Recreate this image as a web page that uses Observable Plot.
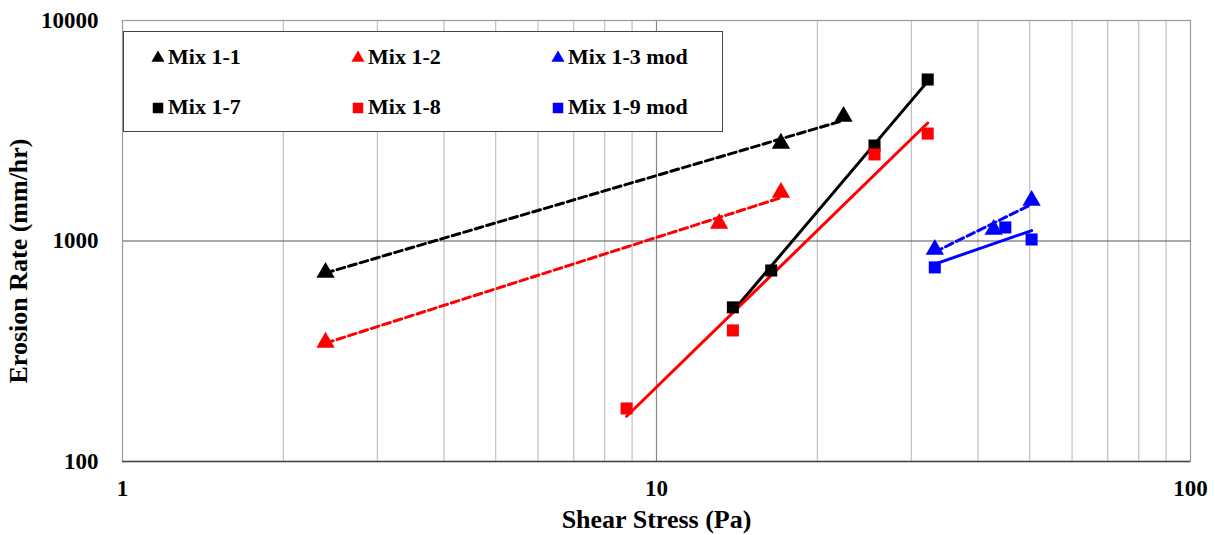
<!DOCTYPE html>
<html><head><meta charset="utf-8">
<script src="https://cdn.jsdelivr.net/npm/d3@7"></script>
<script src="https://cdn.jsdelivr.net/npm/@observablehq/plot@0.6"></script>
<style>
body{margin:0;background:#fff;}
#wrap{position:relative;width:1215px;height:535px;font-family:"Liberation Serif","Times New Roman",serif;font-weight:bold;color:#000;}
#legend{position:absolute;left:123px;top:31px;width:598px;height:99px;border:1.5px solid #444;background:#fff;}
.item{position:absolute;display:flex;align-items:center;font-size:22px;white-space:nowrap;}
.item svg{margin-right:3px;}
#chart svg g[aria-label$="tick label"], #chart svg g[aria-label$="tick label"] text{font-size:23px !important;}
</style></head>
<body><div id="wrap"><div id="chart"></div><div id="legend"></div></div>
<script>
// ---- data ----
const seriesNames = ["Mix 1-1","Mix 1-2","Mix 1-3 mod","Mix 1-7","Mix 1-8","Mix 1-9 mod"];
const seriesColors = ["#000000","#ff0000","#0000ff","#000000","#ff0000","#0000ff"];
const seriesSymbols = ["triangle","triangle","triangle","square","square","square"];
const seriesDashed = [true,true,true,false,false,false];

const shearMix11 = [2.40, 17.1, 22.4];
const rateMix11  = [720, 2770, 3670];
const shearMix12 = [2.40, 13.1, 17.1];
const rateMix12  = [347, 1200, 1660];
const shearMix13 = [33.2, 42.8, 50.4];
const rateMix13  = [915, 1128, 1527];
const shearMix17 = [13.9, 16.4, 25.6, 32.2];
const rateMix17  = [500, 735, 2710, 5400];
const shearMix18 = [8.79, 13.9, 25.6, 32.2];
const rateMix18  = [174, 393, 2470, 3070];
const shearMix19 = [33.2, 45.0, 50.4];
const rateMix19  = [759, 1152, 1016];

const xTicks = [1, 10, 100];
const yTicks = [100, 1000, 10000];
const xMinor = [2,3,4,5,6,7,8,9,20,30,40,50,60,70,80,90];

const shears = [shearMix11, shearMix12, shearMix13, shearMix17, shearMix18, shearMix19];
const rates  = [rateMix11, rateMix12, rateMix13, rateMix17, rateMix18, rateMix19];

// table of points
const points = [];
seriesNames.forEach((s, i) => shears[i].forEach((x, j) => points.push({series: s, x, y: rates[i][j], i})));

// power-law trendlines (least squares in log-log), spanning each series' x range
const trends = [];
seriesNames.forEach((s, i) => {
  const lx = shears[i].map(Math.log10), ly = rates[i].map(Math.log10);
  const mx = d3.mean(lx), my = d3.mean(ly);
  const b = d3.sum(lx, (v, k) => (v - mx) * (ly[k] - my)) / d3.sum(lx, v => (v - mx) ** 2);
  const a = my - b * mx;
  const [x0, x1] = d3.extent(shears[i]);
  [x0, x1].forEach(x => trends.push({series: s, i, x, y: 10 ** (a + b * Math.log10(x))}));
});

const font = '"Liberation Serif","Times New Roman",serif';
const marks = [
  Plot.ruleX(xMinor, {stroke: "#b4b4b4", strokeWidth: 1}),
  Plot.ruleX([10], {stroke: "#888", strokeWidth: 1.2}),
  Plot.ruleY([1000], {stroke: "#555", strokeWidth: 1.2}),
  Plot.frame({stroke: "#999", strokeWidth: 1.2}),
  Plot.ruleY([100], {stroke: "#444", strokeWidth: 1.5}),
];
seriesNames.forEach((s, i) => {
  marks.push(Plot.line(trends.filter(d => d.i === i), {x: "x", y: "y", stroke: seriesColors[i], strokeWidth: 3,
    strokeDasharray: seriesDashed[i] ? "8,4" : null}));
});
seriesNames.forEach((s, i) => {
  marks.push(Plot.dot(points.filter(d => d.i === i), {x: "x", y: "y", symbol: seriesSymbols[i], fill: seriesColors[i],
    stroke: "none", r: 6.8}));
});
marks.push(
  Plot.axisX({ticks: xTicks, tickSize: 0, tickPadding: 18, tickFormat: d => String(d), label: null, fontSize: 23}),
  Plot.axisY({ticks: yTicks, tickSize: 0, tickPadding: 24, tickFormat: d => String(d), label: null, fontSize: 23}),
  Plot.text(["Shear Stress (Pa)"], {frameAnchor: "bottom", dy: 66, fontSize: 26, fontWeight: "bold", text: d => d}),
  Plot.text(["Erosion Rate (mm/hr)"], {frameAnchor: "left", textAnchor: "middle", dx: -104, dy: 20, rotate: -90, fontSize: 26, fontWeight: "bold", text: d => d})
);

const chart = Plot.plot({
  width: 1215, height: 535,
  marginLeft: 122, marginRight: 25, marginTop: 20, marginBottom: 74,
  x: {type: "log", domain: [1, 100]},
  y: {type: "log", domain: [100, 10000]},
  style: {fontFamily: font, fontWeight: "bold", fontSize: "23px", color: "#000", background: "#fff", overflow: "visible"},
  marks
});
document.getElementById("chart").appendChild(chart);

// legend
const legend = document.getElementById("legend");
const colX = [27, 227, 427];
const rowY = [26, 76];
seriesNames.forEach((s, i) => {
  const div = document.createElement("div");
  div.className = "item";
  div.style.left = colX[i % 3] + "px";
  div.style.top = (rowY[Math.floor(i / 3)] - 14) + "px";
  const svg = d3.create("svg").attr("width", 14).attr("height", 14);
  const sym = seriesSymbols[i] === "triangle" ? d3.symbolTriangle : d3.symbolSquare;
  const size = seriesSymbols[i] === "triangle" ? 75 : 110;
  svg.append("path").attr("transform", "translate(7,8)").attr("d", d3.symbol(sym, size)()).attr("fill", seriesColors[i]);
  div.appendChild(svg.node());
  const span = document.createElement("span");
  span.textContent = s;
  div.appendChild(span);
  legend.appendChild(div);
});
</script></body></html>
